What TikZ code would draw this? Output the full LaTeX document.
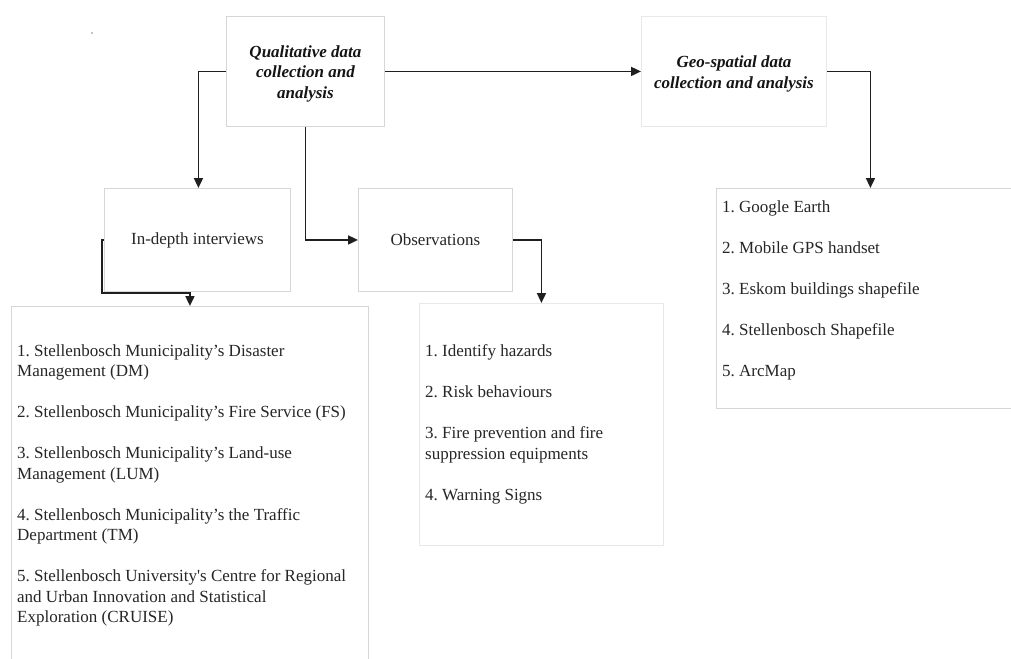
\documentclass[tikz,border=0pt]{standalone}
\usepackage{fontspec}
\setmainfont{Liberation Serif}
\usetikzlibrary{arrows.meta}
\frenchspacing
\begin{document}
\begin{tikzpicture}[x=1pt,y=-1pt,
  box/.style={draw=black!16,line width=0.9pt,anchor=north west,inner sep=0pt,align=center,text=black!85,
    font=\fontsize{17}{20.5}\selectfont},
  head/.style={box,text=black!92,font=\fontsize{17}{20.5}\selectfont\bfseries\itshape},
  listtext/.style={anchor=west,align=left,inner sep=0pt,text=black!85,font=\fontsize{17}{20.5}\selectfont},
  arr/.style={draw=black!88,line width=1.8pt,-{Triangle[length=10pt,width=9pt]}}]
\useasboundingbox (0,0) rectangle (1011,658);
\clip (0,0) rectangle (1011,658);
\fill[white] (0,0) rectangle (1011,658);
\fill[black!45] (92,33) circle (0.8);
% boxes
\node[head,minimum width=158,minimum height=110] (qual) at (226,16) {\rule{0pt}{16.5pt}Qualitative data\\collection and\\analysis};
\node[head,draw=black!9,minimum width=185,minimum height=110] (geo) at (641,16) {\rule{0pt}{16.5pt}Geo-spatial data\\collection and analysis};
\node[box,minimum width=186,minimum height=103] (idi) at (104,188) {In-depth interviews};
\node[box,minimum width=154,minimum height=103] (obs) at (358,188) {Observations};
\node[box,minimum width=357,minimum height=360] (llist) at (11,306) {};
\node[box,draw=black!9,minimum width=244,minimum height=242] (olist) at (419,303) {};
\node[box,minimum width=300,minimum height=220] (rlist) at (716,188) {};
% list texts
\node[listtext] (lt) at (17,485.5) {1. Stellenbosch Municipality’s Disaster\\Management (DM)\\[20.5pt]
2. Stellenbosch Municipality’s Fire Service (FS)\\[20.5pt]
3. Stellenbosch Municipality’s Land-use\\Management (LUM)\\[20.5pt]
4. Stellenbosch Municipality’s the Traffic\\Department (TM)\\[20.5pt]
5. Stellenbosch University\textquotesingle s Centre for Regional\\and Urban Innovation and Statistical\\Exploration (CRUISE)};
\node[listtext] (ot) at (425,424.5) {1. Identify hazards\\[20.5pt]
2. Risk behaviours\\[20.5pt]
3. Fire prevention and fire\\suppression equipments\\[20.5pt]
4. Warning Signs};
\node[listtext] (rt) at (722,290) {1. Google Earth\\[20.5pt]
2. Mobile GPS handset\\[20.5pt]
3. Eskom buildings shapefile\\[20.5pt]
4. Stellenbosch Shapefile\\[20.5pt]
5. ArcMap};
% connectors
\draw[arr] (qual.west) -| ([xshift=1pt]idi.north);
\draw[arr] (qual.east) -- (geo.west);
\draw[arr] (qual.south) |- (obs.west);
\draw[arr] (geo.east) -| ([xshift=4pt]rlist.north);
\draw[arr] (idi.west) -- ++(-2,0) |- ([yshift=13pt]llist.north) -- (llist.north);
\draw[arr] (obs.east) -| (olist.north);
\end{tikzpicture}
\end{document}
